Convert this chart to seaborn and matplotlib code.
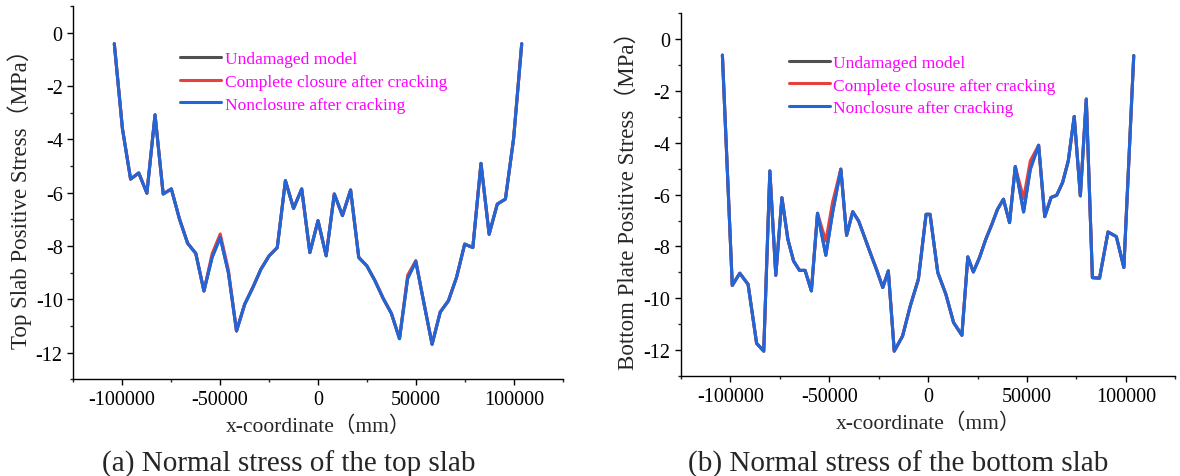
import seaborn as sns
import matplotlib.pyplot as plt
import pandas as pd
from matplotlib.ticker import MultipleLocator

sns.set_theme(style="ticks")
plt.rcParams['font.family'] = ['Liberation Serif', 'Noto Sans CJK SC']
plt.rcParams['axes.unicode_minus'] = False

labels = ["Undamaged model", "Complete closure after cracking", "Nonclosure after cracking"]
colors = ["#505050", "#e8403c", "#2166d8"]

# top slab (a)
top_x = [-104000, -99840, -95680, -91520, -87360, -83200, -79040, -74880, -70720, -66560,
         -62400, -58240, -54080, -49920, -45760, -41600, -37440, -33280, -29120, -24960,
         -20800, -16640, -12480, -8320, -4160, 0, 4160, 8320, 12480, 16640,
         20800, 24960, 29120, 33280, 37440, 41600, 45760, 49920, 54080, 58240,
         62400, 66560, 70720, 74880, 79040, 83200, 87360, 91520, 95680, 99840, 104000]
top_nonclosure = [-0.41, -3.6, -5.49, -5.26, -6.02, -3.08, -6.05, -5.86, -6.99, -7.9,
                  -8.28, -9.69, -8.43, -7.68, -9.0, -11.19, -10.19, -9.56, -8.87, -8.37,
                  -8.06, -5.55, -6.59, -5.86, -8.25, -7.05, -8.37, -6.05, -6.86, -5.9,
                  -8.43, -8.75, -9.31, -9.97, -10.53, -11.48, -9.22, -8.58, -10.15, -11.69,
                  -10.48, -10.06, -9.18, -7.93, -8.06, -4.9, -7.56, -6.43, -6.24, -3.98, -0.41]
top_closure = [-0.41, -3.6, -5.49, -5.26, -6.02, -3.08, -6.05, -5.86, -6.99, -7.9,
               -8.28, -9.69, -8.3, -7.55, -8.9, -11.19, -10.19, -9.56, -8.87, -8.37,
               -8.06, -5.55, -6.59, -5.86, -8.25, -7.05, -8.37, -6.05, -6.86, -5.9,
               -8.43, -8.75, -9.31, -9.97, -10.53, -11.48, -9.1, -8.55, -10.15, -11.69,
               -10.48, -10.06, -9.18, -7.93, -8.06, -4.9, -7.56, -6.43, -6.24, -3.98, -0.41]
top_undamaged = top_nonclosure

# bottom slab (b)
bot_x = [-104000, -99000, -95200, -91000, -86700, -83100, -80000, -77000, -73900, -70900,
         -68000, -65000, -62200, -59000, -55900, -51700, -48300, -44100, -41200, -38100,
         -35100, -32300, -29200, -26000, -22900, -20100, -17100, -12900, -9000, -4900,
         -1000, 1000, 4900, 9000, 12900, 17100, 20100, 22900, 26000, 29200,
         32300, 35100, 38100, 41200, 44100, 48300, 51700, 55900, 59000, 62200,
         65000, 68000, 70900, 73900, 77000, 80000, 83100, 86700, 91000, 95200, 99000, 104000]
bot_nonclosure = [-0.63, -9.5, -9.03, -9.46, -11.73, -12.03, -5.09, -9.11, -6.12, -7.72,
                  -8.56, -8.92, -8.92, -9.71, -6.72, -8.34, -6.7, -5.02, -7.57, -6.66,
                  -7.02, -7.6, -8.25, -8.9, -9.58, -8.94, -12.03, -11.45, -10.29, -9.26,
                  -6.76, -6.76, -9.0, -9.84, -10.93, -11.42, -8.4, -8.98, -8.43, -7.72,
                  -7.14, -6.57, -6.18, -7.08, -4.92, -6.67, -5.02, -4.1, -6.85, -6.11,
                  -6.03, -5.54, -4.7, -2.99, -6.05, -2.32, -9.2, -9.22, -7.44, -7.62, -8.81, -0.65]
bot_closure = [-0.63, -9.5, -9.03, -9.46, -11.73, -12.03, -5.09, -9.11, -6.12, -7.72,
               -8.56, -8.92, -8.92, -9.71, -6.72, -7.79, -6.3, -5.02, -7.57, -6.66,
               -7.02, -7.6, -8.25, -8.9, -9.58, -8.94, -12.03, -11.45, -10.29, -9.26,
               -6.76, -6.76, -9.0, -9.84, -10.93, -11.42, -8.4, -8.98, -8.43, -7.72,
               -7.14, -6.57, -6.18, -7.08, -4.92, -6.15, -4.7, -4.1, -6.85, -6.11,
               -6.03, -5.54, -4.7, -2.99, -6.05, -2.32, -9.2, -9.22, -7.44, -7.62, -8.81, -0.65]
bot_undamaged = bot_nonclosure


def long_df(x, series):
    parts = []
    for lab, vals in zip(labels, series):
        parts.append(pd.DataFrame({"x": x, "y": vals, "case": lab}))
    return pd.concat(parts, ignore_index=True)


fig = plt.figure(figsize=(11.8, 4.77), dpi=100)
ax1 = fig.add_axes([0.062, 0.203, 0.415, 0.782])
ax2 = fig.add_axes([0.577, 0.209, 0.419, 0.762])

panels = [
    (ax1, long_df(top_x, [top_undamaged, top_closure, top_nonclosure]),
     "Top Slab Positive Stress（MPa）", (0.219, 0.88)),
    (ax2, long_df(bot_x, [bot_undamaged, bot_closure, bot_nonclosure]),
     "Bottom Plate Positive Stress（MPa）", (0.219, 0.885)),
]

for ax, df, ylab, anchor in panels:
    sns.lineplot(data=df, x="x", y="y", hue="case", palette=colors, sort=False,
                 linewidth=2.2, ax=ax, estimator=None)
    ax.set_xlim(-125000, 125000)
    ax.set_ylim(-13, 1)
    ax.xaxis.set_major_locator(MultipleLocator(50000))
    ax.xaxis.set_minor_locator(MultipleLocator(25000))
    ax.yaxis.set_major_locator(MultipleLocator(2))
    ax.yaxis.set_minor_locator(MultipleLocator(1))
    ax.tick_params(which="major", direction="out", length=4, width=1, labelsize=14.5, colors="black")
    ax.tick_params(which="minor", direction="out", length=2.5, width=1)
    for s in ["left", "bottom"]:
        ax.spines[s].set_color("black")
        ax.spines[s].set_linewidth(1)
    sns.despine(ax=ax)
    ax.set_xlabel("x-coordinate（mm）", fontsize=15.5, labelpad=5)
    ax.set_ylabel(ylab, fontsize=16.5, labelpad=3)
    leg = ax.legend(loc="upper left", bbox_to_anchor=anchor, frameon=False,
                    fontsize=12.5, handlelength=2.35, handletextpad=0.2,
                    labelspacing=0.38, borderpad=0, borderaxespad=0)
    for t in leg.get_texts():
        t.set_color("#ff00ff")
    for h in leg.get_lines():
        h.set_linewidth(2.2)

fig.text(0.245, 0.012, "(a) Normal stress of the top slab", fontsize=21, ha="center")
fig.text(0.761, 0.012, "(b) Normal stress of the bottom slab", fontsize=21, ha="center")

fig.savefig("out.png", dpi=100)
